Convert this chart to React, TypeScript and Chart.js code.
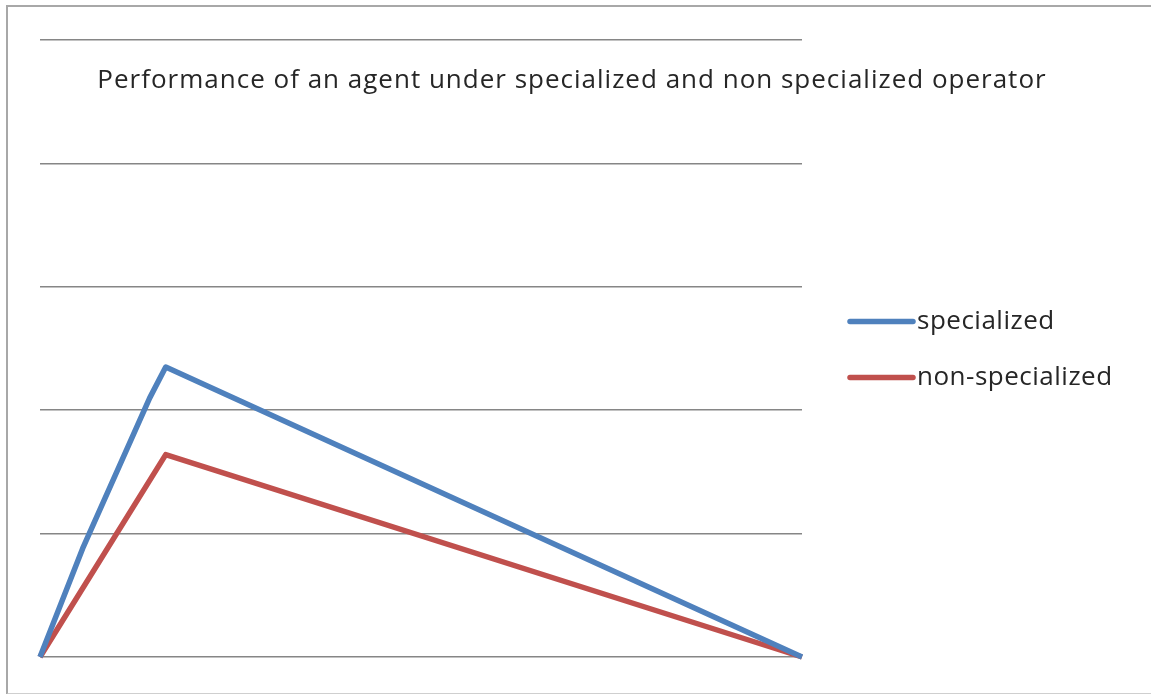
import React, { useEffect, useRef } from "react";
import { Chart, registerables } from "chart.js";

Chart.register(...registerables);

const chartTitle = "Performance of an agent under specialized and non specialized operator";
const seriesNames = ["specialized", "non-specialized"];
const seriesColors = ["#4f81bd", "#c0504d"];

const specializedX = [0, 5.6, 14.4, 16.5, 100];
const specializedY = [0, 0.88, 2.1, 2.35, 0];
const nonSpecializedX = [0, 16.5, 100];
const nonSpecializedY = [0, 1.64, 0];

const yTicks = [0, 1, 2, 3, 4, 5];

const FONT = "'Open Sans', sans-serif";
const LINE_WIDTH = 5.5;

// Draws the overlaid title and the right-hand legend.
const overlayPlugin = {
  id: "overlay",
  afterDraw(chart: any) {
    const { ctx, chartArea } = chart;
    ctx.save();
    ctx.fillStyle = "#262626";
    ctx.font = `26px ${FONT}`;
    (ctx as any).letterSpacing = "1px";
    ctx.textAlign = "center";
    ctx.textBaseline = "alphabetic";
    ctx.fillText(chartTitle, 572, chartArea.top + 48);

    const midY = (chartArea.top + chartArea.bottom) / 2;
    const rows = [midY - 27, midY + 29];
    (ctx as any).letterSpacing = "0.5px";
    chart.data.datasets.forEach((ds: any, i: number) => {
      const y = rows[i];
      const x0 = chartArea.right + 48;
      const x1 = chartArea.right + 111;
      ctx.strokeStyle = ds.borderColor;
      ctx.lineWidth = LINE_WIDTH;
      ctx.lineCap = "round";
      ctx.beginPath();
      ctx.moveTo(x0, y);
      ctx.lineTo(x1, y);
      ctx.stroke();
      ctx.fillStyle = "#262626";
      ctx.textAlign = "left";
      ctx.textBaseline = "middle";
      ctx.font = `26px ${FONT}`;
      ctx.fillText(ds.label, x1 + 4, y);
    });
    ctx.restore();
  },
};

function toPoints(xs: number[], ys: number[]) {
  return xs.map((x, i) => ({ x, y: ys[i] }));
}

export default function App() {
  const canvasRef = useRef<HTMLCanvasElement | null>(null);

  useEffect(() => {
    if (!canvasRef.current) return;
    const chart = new Chart(canvasRef.current, {
      type: "line",
      data: {
        datasets: [
          {
            label: seriesNames[0],
            data: toPoints(specializedX, specializedY),
            borderColor: seriesColors[0],
            borderWidth: LINE_WIDTH,
            pointRadius: 0,
            fill: false,
            tension: 0,
            borderJoinStyle: "round",
            clip: false as any,
          },
          {
            label: seriesNames[1],
            data: toPoints(nonSpecializedX, nonSpecializedY),
            borderColor: seriesColors[1],
            borderWidth: LINE_WIDTH,
            pointRadius: 0,
            fill: false,
            tension: 0,
            borderJoinStyle: "round",
            clip: false as any,
          },
        ],
      },
      options: {
        animation: false,
        responsive: false,
        maintainAspectRatio: false,
        layout: { padding: { left: 40, top: 40, right: 349, bottom: 37 } },
        plugins: {
          legend: { display: false },
          title: { display: false },
          tooltip: { enabled: false },
        },
        scales: {
          x: {
            type: "linear",
            min: 0,
            max: 100,
            display: false,
          },
          y: {
            min: yTicks[0],
            max: yTicks[yTicks.length - 1],
            afterBuildTicks(axis: any) {
              axis.ticks = yTicks.map((v) => ({ value: v }));
            },
            ticks: { display: false },
            border: { display: false },
            grid: { color: "#868686", lineWidth: 1.5, drawTicks: false },
          },
        },
      },
      plugins: [overlayPlugin],
    });
    return () => chart.destroy();
  }, []);

  return (
    <div
      style={{
        position: "fixed",
        left: 0,
        top: 0,
        width: 1151,
        height: 694,
        background: "#ffffff",
        overflow: "hidden",
      }}
    >
      <div
        style={{
          position: "absolute",
          left: 6,
          top: 5,
          width: 1160,
          height: 686,
          borderLeft: "2px solid #a8a8a8",
          borderTop: "2px solid #a8a8a8",
          borderBottom: "2px solid #cfcfcf",
        }}
      />
      <canvas
        ref={canvasRef}
        width={1151}
        height={694}
        style={{ position: "absolute", left: 0, top: 0 }}
      />
    </div>
  );
}
